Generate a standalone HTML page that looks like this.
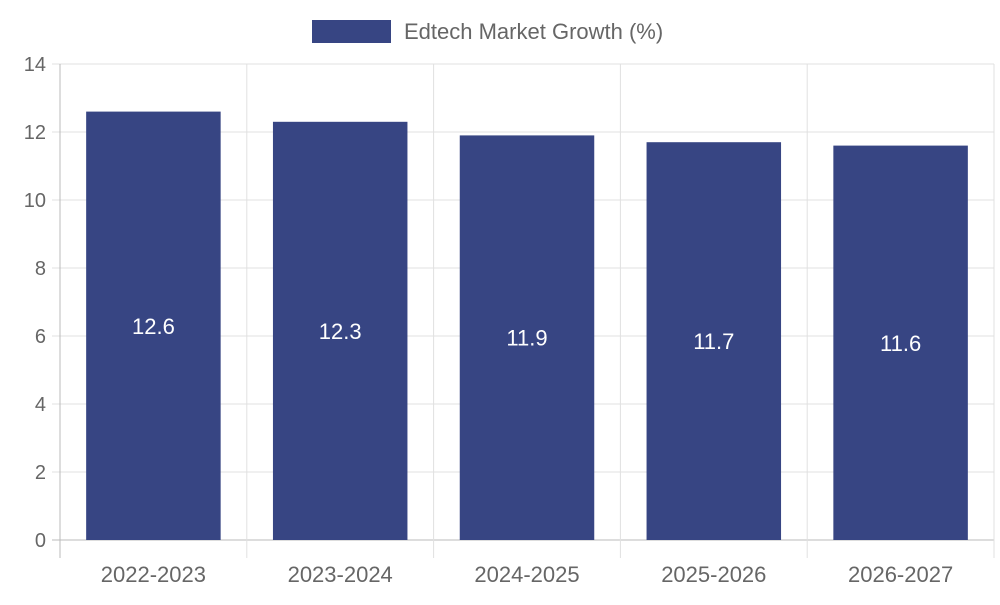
<!DOCTYPE html>
<html><head><meta charset="utf-8"><style>
body{margin:0;background:#fff;}
svg text{font-family:"Liberation Sans",sans-serif;}
</style></head><body>
<svg id="chart" width="1000" height="600" xmlns="http://www.w3.org/2000/svg">
<g>
<rect x="312" y="20" width="79" height="23" fill="#374583"/>
<text x="404" y="39" font-size="22" fill="#666">Edtech Market Growth (%)</text>
</g>
<g id="grid"></g>
<g id="bars"></g>
</svg>
<script>
const categories=["2022-2023","2023-2024","2024-2025","2025-2026","2026-2027"];
const values=[12.6,12.3,11.9,11.7,11.6];
const yTicks=[0,2,4,6,8,10,12,14];
const L=60,R=994,T=64,B=540,yMax=14;
const NS="http://www.w3.org/2000/svg";
const bw=(R-L)/categories.length;
const y=v=>B-(v/yMax)*(B-T);
const x=i=>L+i*bw;
function mk(tag,attrs,parent){const e=document.createElementNS(NS,tag);for(const k in attrs)e.setAttribute(k,attrs[k]);parent.appendChild(e);return e;}
const g=document.getElementById('grid'),bg=document.getElementById('bars');
yTicks.forEach(t=>{
 const ln=mk('line',{x1:L-8,x2:R,y1:y(t),y2:y(t),stroke:t===0?'#bbb':'#e0e0e0','stroke-width':1},g);
 
 
 const tx=mk('text',{x:L-14,y:y(t)+7,'text-anchor':'end','font-size':20,fill:'#666'},g);
 tx.textContent=t;
 
 
});
for(let i=0;i<=categories.length;i++){
 const ln=mk('line',{x1:x(i),x2:x(i),y1:T,y2:B+18,stroke:i===0?'#bbb':'#e0e0e0','stroke-width':1},g);
 
 
}
categories.forEach((c,i)=>{
 const w=bw*0.72,bx=x(i)+(bw-w)/2,v=values[i];
 const r=mk('rect',{x:bx,y:y(v),width:w,height:B-y(v),fill:'#374583'},bg);
 
 
 const vl=mk('text',{x:bx+w/2,y:(y(v)+B)/2+8,'text-anchor':'middle','font-size':22,fill:'#fff'},bg);
 vl.textContent=v;
 
 
 const xl=mk('text',{x:x(i)+bw/2,y:582,'text-anchor':'middle','font-size':22,fill:'#666'},bg);
 xl.textContent=c;
 
 
});
</script>
</body></html>
